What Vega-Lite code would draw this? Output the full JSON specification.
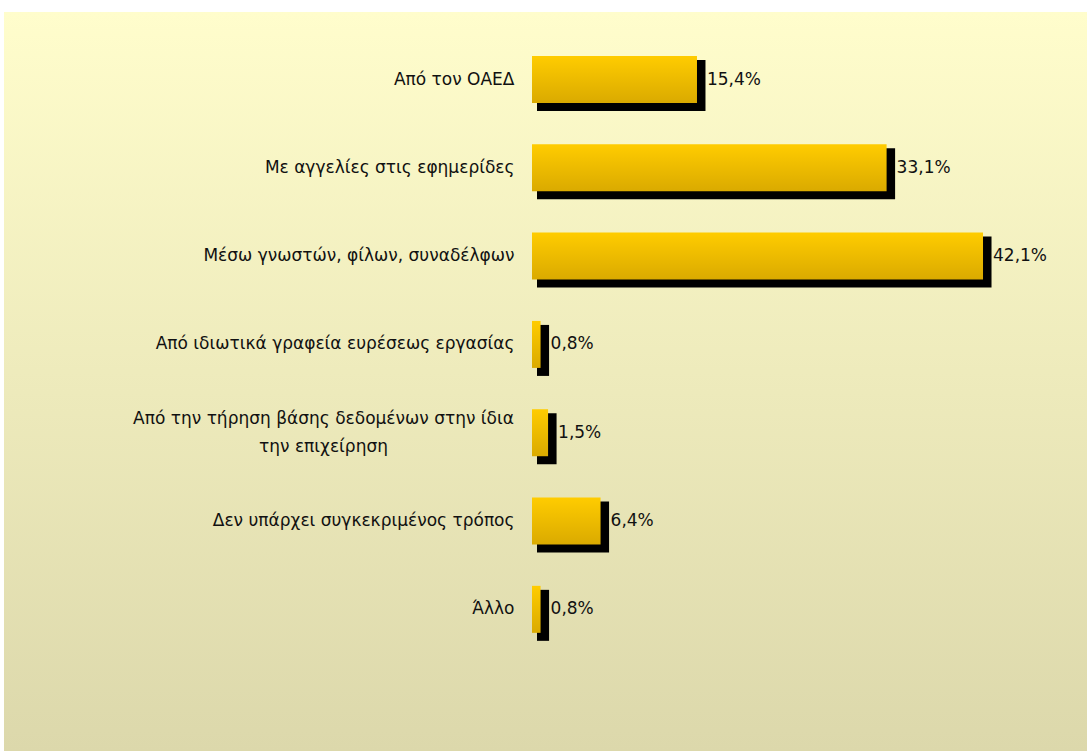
{
  "$schema": "https://vega.github.io/schema/vega-lite/v6.json",
  "width": 1083,
  "height": 739,
  "autosize": "none",
  "padding": {"left": 4, "top": 12, "right": 0, "bottom": 0},
  "background": "white",
  "config": {
    "font": "DejaVu Sans",
    "view": {
      "stroke": null,
      "fill": {"gradient": "linear", "x1": 0, "y1": 0, "x2": 0, "y2": 1,
        "stops": [{"offset": 0, "color": "#FFFDCC"}, {"offset": 1, "color": "#DCD8AB"}]}
    }
  },
  "data": {
    "values": [
      {"cat": "Από τον ΟΑΕΔ", "value": 15.4, "label": "15,4%"},
      {"cat": "Με αγγελίες στις εφημερίδες", "value": 33.1, "label": "33,1%"},
      {"cat": "Μέσω γνωστών, φίλων, συναδέλφων", "value": 42.1, "label": "42,1%"},
      {"cat": "Από ιδιωτικά γραφεία ευρέσεως εργασίας", "value": 0.8, "label": "0,8%"},
      {"cat": "Από την τήρηση βάσης δεδομένων στην ίδια\nτην επιχείρηση", "value": 1.5, "label": "1,5%"},
      {"cat": "Δεν υπάρχει συγκεκριμένος τρόπος", "value": 6.4, "label": "6,4%"},
      {"cat": "Άλλο", "value": 0.8, "label": "0,8%"}
    ]
  },
  "encoding": {
    "y": {
      "field": "cat", "type": "nominal", "sort": null,
      "scale": {"range": [23.35, 641.5], "paddingInner": 0, "paddingOuter": 0},
      "axis": {
        "title": null, "orient": "left", "offset": -528, "domain": false, "ticks": false,
        "labelFontSize": 17, "labelColor": "#111111", "labelFont": "DejaVu Sans",
        "labelLimit": 700, "labelLineHeight": 28,
        "labelPadding": {"condition": {"test": "indexof(datum.label, '\\n') >= 0", "value": 209}, "value": 18},
        "labelAlign": {"condition": {"test": "indexof(datum.label, '\\n') >= 0", "value": "center"}, "value": "right"},
        "labelOffset": {"condition": {"test": "indexof(datum.label, '\\n') >= 0", "value": -14}, "value": 0},
        "labelExpr": "split(datum.label, '\\n')"
      }
    }
  },
  "layer": [
    {
      "mark": {"type": "bar", "color": "black", "height": 51, "yOffset": 6, "xOffset": 8.5, "x2Offset": 5},
      "encoding": {
        "x": {"field": "value", "type": "quantitative", "scale": {"domain": [-49.286, 51.806], "nice": false, "zero": false}, "axis": null},
        "x2": {"datum": 0}
      }
    },
    {
      "mark": {"type": "bar", "height": 47,
        "fill": {"gradient": "linear", "x1": 0, "y1": 0, "x2": 0, "y2": 1,
          "stops": [{"offset": 0, "color": "#FFCC00"}, {"offset": 1, "color": "#DAAA00"}]}},
      "encoding": {
        "x": {"field": "value", "type": "quantitative"},
        "x2": {"datum": 0}
      }
    },
    {
      "mark": {"type": "text", "align": "left", "baseline": "middle", "dx": 10, "fontSize": 17, "color": "#111111"},
      "encoding": {
        "x": {"field": "value", "type": "quantitative"},
        "text": {"field": "label"}
      }
    }
  ]
}
